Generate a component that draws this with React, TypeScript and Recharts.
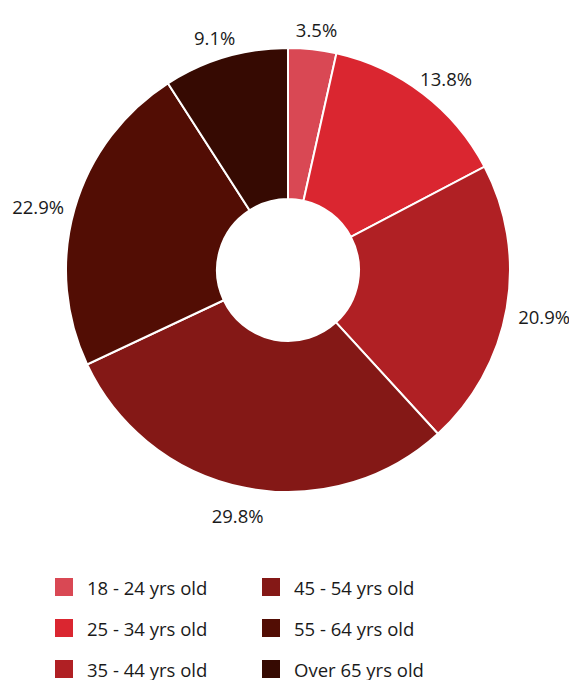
import React from 'react';
import { PieChart, Pie, Cell, Legend } from 'recharts';

const categories = ['18 - 24 yrs old', '25 - 34 yrs old', '35 - 44 yrs old', '45 - 54 yrs old', '55 - 64 yrs old', 'Over 65 yrs old'];
const shares = [3.5, 13.8, 20.9, 29.8, 22.9, 9.1];
const colors = ['#D94854', '#DA2630', '#B02024', '#841816', '#520D04', '#360A02'];

const data = categories.map((name, i) => ({ name, value: shares[i] }));

const RAD = Math.PI / 180;

const renderLabel = (props: any) => {
  const { cx, cy, midAngle, outerRadius, value } = props;
  const c = Math.cos(-midAngle * RAD);
  const s = Math.sin(-midAngle * RAD);
  const x = cx + outerRadius * c + 38 * c;
  const y = cy + outerRadius * s + 24 * s + 4;
  return (
    <text
      x={x}
      y={y}
      fill="#1a1a1a"
      textAnchor="middle"
      dominantBaseline="central"
      fontSize={18.5}
      fontFamily="'Open Sans', sans-serif"
    >
      {value.toFixed(1)}%
    </text>
  );
};

const renderLegend = () => {
  const rows = 3;
  return (
    <div style={{ position: 'relative', width: 569, height: 120, fontFamily: "'Open Sans', sans-serif", fontSize: 18.5, color: '#1a1a1a' }}>
      {categories.map((name, i) => {
        const col = Math.floor(i / rows);
        const row = i % rows;
        return (
          <div
            key={name}
            style={{
              position: 'absolute',
              left: col === 0 ? 55 : 262,
              top: row * 41,
              display: 'flex',
              alignItems: 'center',
              height: 20,
            }}
          >
            <span style={{ display: 'inline-block', width: 18, height: 18, background: colors[i], marginRight: 14 }} />
            <span style={{ whiteSpace: 'nowrap' }}>{name}</span>
          </div>
        );
      })}
    </div>
  );
};

export default function App() {
  return (
    <div style={{ position: 'absolute', left: 0, top: 0, width: 569, height: 680, background: '#fff' }}>
      <PieChart width={569} height={680} margin={{ top: 0, right: 0, bottom: 0, left: 0 }}>
        <Pie
          data={data}
          dataKey="value"
          nameKey="name"
          cx={288}
          cy={270}
          innerRadius={71}
          outerRadius={222}
          startAngle={90}
          endAngle={-270}
          stroke="#ffffff"
          strokeWidth={2}
          label={renderLabel}
          labelLine={false}
          isAnimationActive={false}
        >
          {data.map((d, i) => (
            <Cell key={d.name} fill={colors[i]} />
          ))}
        </Pie>
        <Legend
          content={renderLegend}
          wrapperStyle={{ position: 'absolute', left: 0, top: 577, width: 569, height: 120 }}
        />
      </PieChart>
    </div>
  );
}
